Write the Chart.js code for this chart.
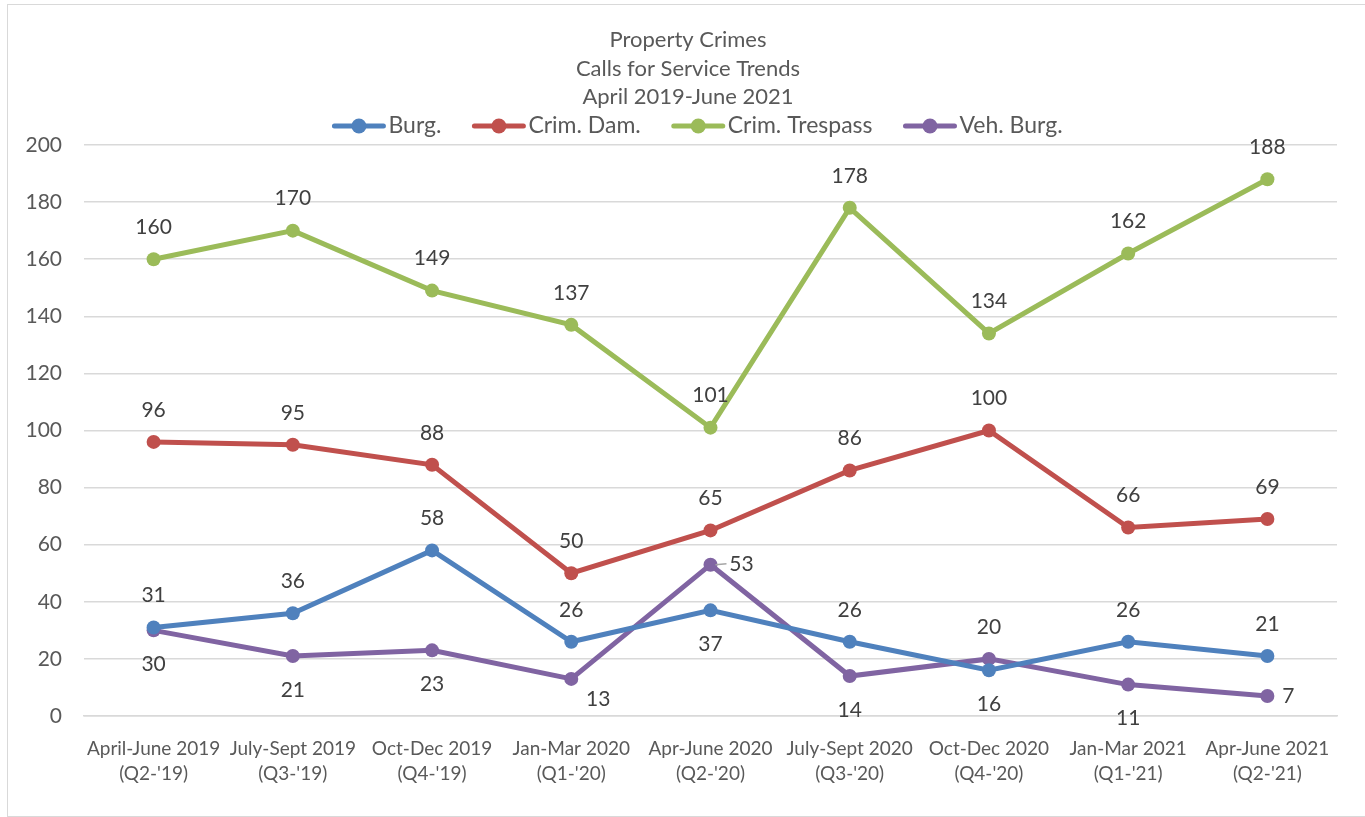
<!DOCTYPE html>
<html>
<head>
<meta charset="utf-8">
<script src="https://cdn.jsdelivr.net/npm/chart.js@4"></script>
<style>
  html, body { margin: 0; padding: 0; background: #fff; }
  #marco { position: absolute; left: 7px; top: 4px; width: 1370px; height: 811px; border: 1px solid #d9d9d9; }
  #lienzo { position: absolute; left: 0; top: 0; }
</style>
</head>
<body>
<div id="marco"></div>
<canvas id="lienzo" width="1365" height="817"></canvas>
<script>
'use strict';

// Etiquetas de los trimestres
const trimestres = [
    ["April-June 2019", "(Q2-'19)"],
    ["July-Sept 2019", "(Q3-'19)"],
    ["Oct-Dec 2019", "(Q4-'19)"],
    ["Jan-Mar 2020", "(Q1-'20)"],
    ["Apr-June 2020", "(Q2-'20)"],
    ["July-Sept 2020", "(Q3-'20)"],
    ["Oct-Dec 2020", "(Q4-'20)"],
    ["Jan-Mar 2021", "(Q1-'21)"],
    ["Apr-June 2021", "(Q2-'21)"]
];

const burg = [31, 36, 58, 26, 37, 26, 16, 26, 21];
const crimDam = [96, 95, 88, 50, 65, 86, 100, 66, 69];
const crimTrespass = [160, 170, 149, 137, 101, 178, 134, 162, 188];
const vehBurg = [30, 21, 23, 13, 53, 14, 20, 11, 7];

const ticksY = [0, 20, 40, 60, 80, 100, 120, 140, 160, 180, 200];

const titulo = ['Property Crimes', 'Calls for Service Trends', 'April 2019-June 2021'];

// Posición de la etiqueta de cada punto
const posBurg = ['arriba', 'arriba', 'arriba', 'arriba', 'abajo', 'arriba', 'abajo', 'arriba', 'arriba'];
const posDam = Array(9).fill('arriba');
const posTres = Array(9).fill('arriba');
const posVeh = ['abajo', 'abajo', 'abajo', 'abajoDer', 'guia', 'abajo', 'arriba', 'abajo', 'derecha'];

const FUENTE = "Lato, 'Open Sans', sans-serif";
const GRIS_TEXTO = '#595959';

/**
 * Dibuja el título de tres líneas y la leyenda (línea con círculo + texto).
 */
const tituloYLeyenda = {
    id: 'tituloYLeyenda',
    afterDraw(chart) {
        const ctx = chart.ctx;
        ctx.save();
        ctx.fillStyle = GRIS_TEXTO;
        ctx.textAlign = 'center';
        ctx.textBaseline = 'middle';
        ctx.font = "22px " + FUENTE;
        titulo.forEach((linea, i) => ctx.fillText(linea, 688, 40 + i * 28.5));

        // Leyenda
        ctx.font = "23px " + FUENTE;
        const anchoIcono = 55, hueco = 2, separacion = 30, yLey = 126;
        const items = chart.data.datasets.map(d => ({ texto: d.label, color: d.borderColor, ancho: ctx.measureText(d.label).width }));
        const total = items.reduce((s, it) => s + anchoIcono + hueco + it.ancho, 0) + separacion * (items.length - 1);
        let x = 697 - total / 2;
        ctx.textAlign = 'left';
        items.forEach(it => {
            ctx.strokeStyle = it.color;
            ctx.fillStyle = it.color;
            ctx.lineWidth = 5;
            ctx.lineCap = 'round';
            ctx.beginPath();
            ctx.moveTo(x + 3, yLey);
            ctx.lineTo(x + anchoIcono - 3, yLey);
            ctx.stroke();
            ctx.beginPath();
            ctx.arc(x + anchoIcono / 2, yLey, 7.5, 0, Math.PI * 2);
            ctx.fill();
            x += anchoIcono + hueco;
            ctx.fillStyle = GRIS_TEXTO;
            ctx.fillText(it.texto, x, yLey);
            x += it.ancho + separacion;
        });
        ctx.restore();
    }
};

const etiquetasDatos = {
    id: 'etiquetasDatos',
    afterDatasetsDraw(chart) {
        const ctx = chart.ctx;
        ctx.save();
        ctx.font = "21px " + FUENTE;
        ctx.fillStyle = '#404040';
        ctx.textAlign = 'center';
        ctx.textBaseline = 'middle';
        chart.data.datasets.forEach((ds, i) => {
            const meta = chart.getDatasetMeta(i);
            meta.data.forEach((p, j) => {
                const texto = String(ds.data[j]);
                const pos = ds.posiciones[j];
                let x = p.x, y = p.y;
                if (pos === 'arriba') {
                    y -= 32;
                } else if (pos === 'abajo') {
                    y += 34;
                } else if (pos === 'abajoDer') {
                    x += 27; y += 20;
                } else if (pos === 'derecha') {
                    x += 21;
                } else if (pos === 'guia') {
                    ctx.strokeStyle = '#a6a6a6';
                    ctx.lineWidth = 1.5;
                    ctx.beginPath();
                    ctx.moveTo(x + 5, y);
                    ctx.lineTo(x + 16, y - 1);
                    ctx.stroke();
                    x += 31;
                }
                ctx.fillText(texto, x, y);
            });
        });
        ctx.restore();
    }
};

function serie(label, datos, color, posiciones) {
    return {
        label: label,
        data: datos,
        borderColor: color,
        backgroundColor: color,
        borderWidth: 5,
        pointRadius: 7,
        pointHoverRadius: 7,
        pointBackgroundColor: color,
        pointBorderWidth: 0,
        pointStyle: 'circle',
        tension: 0,
        posiciones: posiciones
    };
}

const datasets = [
    serie('Burg.', burg, '#4f81bd', posBurg),
    serie('Crim. Dam.', crimDam, '#c0504d', posDam),
    serie('Crim. Trespass', crimTrespass, '#9bbb59', posTres),
    serie('Veh. Burg.', vehBurg, '#8064a2', posVeh)
];

new Chart(document.getElementById('lienzo').getContext('2d'), {
    type: 'line',
    data: { labels: trimestres, datasets: datasets },
    options: {
        responsive: false,
        animation: false,
        layout: { padding: { left: 0, right: 28, top: 145, bottom: 0 } },
        plugins: {
            title: { display: false },
            legend: { display: false },
            tooltip: { enabled: false }
        },
        scales: {
            x: {
                offset: true,
                grid: { display: false },
                border: { color: '#d9d9d9', width: 1.5 },
                ticks: {
                    color: GRIS_TEXTO,
                    font: { family: FUENTE, size: 19, lineHeight: 1.32 },
                    maxRotation: 0,
                    autoSkip: false,
                    padding: 12
                },
                afterFit(scale) { scale.height = 101; }
            },
            y: {
                min: 0,
                max: 200,
                afterBuildTicks(scale) { scale.ticks = ticksY.map(v => ({ value: v })); },
                grid: { color: '#d9d9d9', lineWidth: 1.5, drawTicks: false },
                border: { display: false },
                ticks: {
                    color: GRIS_TEXTO,
                    font: { family: FUENTE, size: 21 },
                    padding: 22
                },
                afterFit(scale) { scale.width = 84; }
            }
        }
    },
    plugins: [etiquetasDatos, tituloYLeyenda]
});
</script>
</body>
</html>
